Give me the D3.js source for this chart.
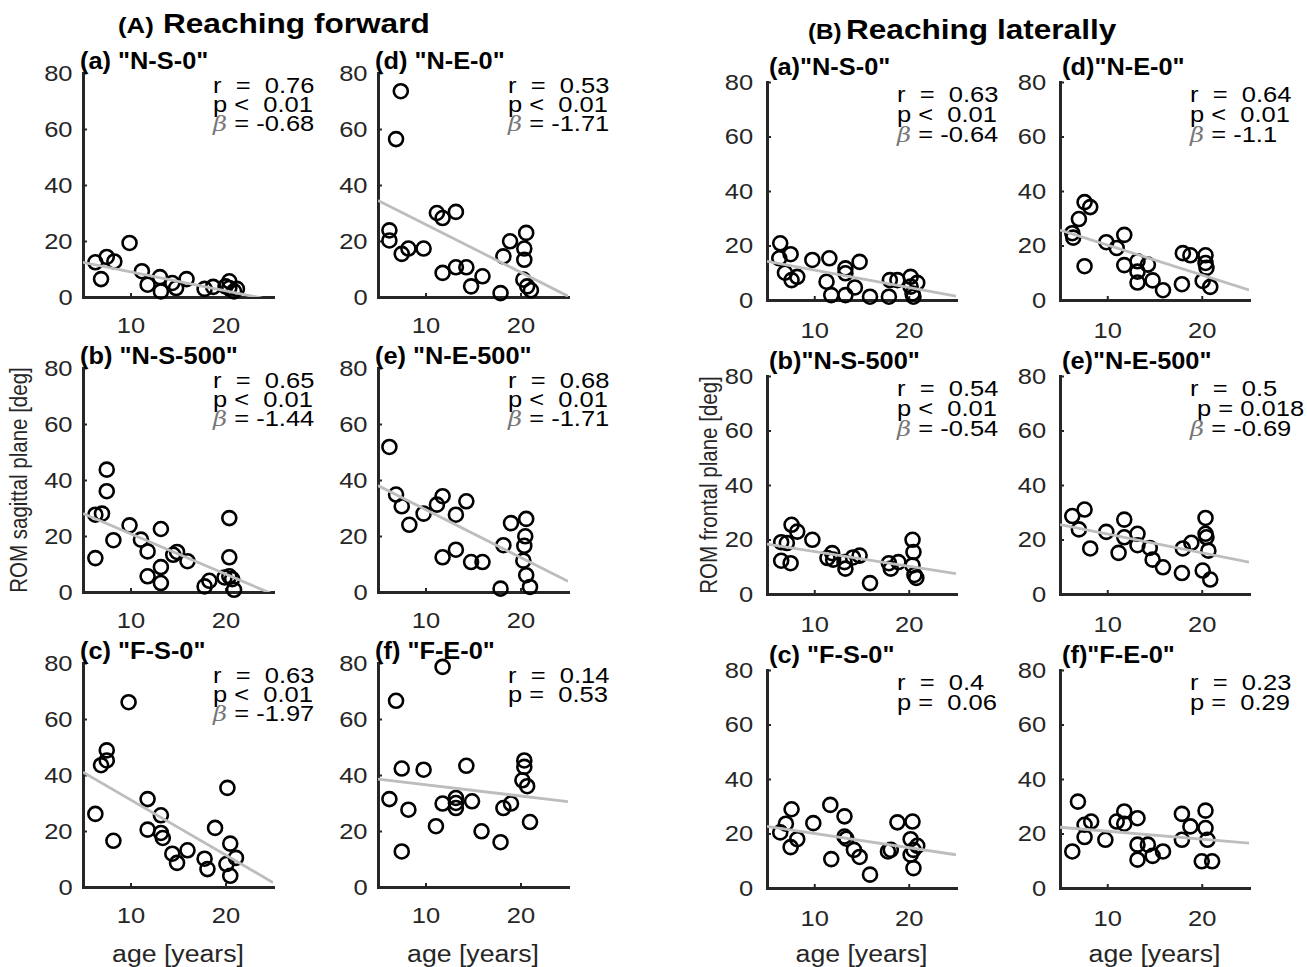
<!DOCTYPE html>
<html><head><meta charset="utf-8">
<script src="https://cdn.jsdelivr.net/npm/d3@7"></script>
<style>
body{margin:0;background:#fff;}
svg text{font-family:"Liberation Sans",Arial,Helvetica,sans-serif;}
</style></head><body>
<svg id="chart" width="1307" height="967"></svg>
<script>
// ---------- DATA ----------
const xTicks = [10, 20];
const yTicks = [0, 20, 40, 60, 80];
const groupTitles = ["Reaching forward", "Reaching laterally"];
const groupTags = ["(A)", "(B)"];
const yLabels = ["ROM sagittal plane [deg]", "ROM frontal plane [deg]"];
const xLabel = "age [years]";

// (A) Reaching forward
const ageAa = [6.3,6.9,7.5,8.3,9.9,11.2,11.8,13.1,13.2,14.4,14.8,15.9,17.8,18.7,20.0,20.4,20.4,20.9,21.2];
const romAa = [12.4,6.4,14.3,12.7,19.3,9.2,4.4,7.1,2.0,5.0,3.2,6.4,2.9,3.6,3.8,5.6,3.2,2.0,2.9];
const ageAd = [7.4,6.9,6.2,6.2,7.5,8.2,9.8,11.2,11.8,13.2,11.8,13.2,14.3,14.8,16.0,17.9,18.2,18.9,20.6,20.4,20.4,20.3,20.7,21.1];
const romAd = [73.5,56.4,23.8,20.2,15.4,17.3,17.3,30,28.2,30.4,8.6,10.6,10.6,3.8,7.4,1.4,14.5,19.9,22.9,17.3,13.3,6.2,3.8,2.4];
const ageAb = [6.3,6.3,7.0,7.5,7.5,8.2,9.9,11.1,11.8,11.8,13.2,13.2,13.2,14.5,14.9,16.0,17.8,18.3,19.9,20.4,20.4,20.4,20.7,20.9];
const romAb = [12.1,27.6,28,43.7,36,18.5,23.8,18.7,14.5,5.6,22.5,8.9,3.2,13.3,14.3,11.0,2.0,4.0,5.2,26.4,12.4,5.6,4.6,0.8];
const ageAe = [6.2,6.9,7.5,8.3,9.8,11.2,11.8,13.2,14.3,11.8,13.2,14.8,16.0,17.9,18.2,19.0,20.6,20.5,20.4,20.3,20.6,21.0];
const romAe = [51.8,34.8,30.6,24,28,31.2,34.2,27.6,32.4,12.4,15.1,10.7,10.7,1.2,16.7,24.6,26.1,19.9,16.5,11.2,6.0,1.8];
const ageAc = [9.8,7.5,7.5,6.9,6.3,8.2,11.8,11.8,13.2,13.2,13.4,14.4,14.9,16.0,17.8,18.1,18.9,20.2,20.5,21.1,20.1,20.5];
const romAc = [66,48.8,45.2,43.5,26.1,16.5,31.4,20.5,25.6,19.3,17.5,11.9,8.6,13.1,10.1,6.4,21.1,35.4,15.5,10.4,8.2,4.0];
const ageAf = [11.8,6.9,7.5,9.8,14.3,6.2,8.2,7.5,11.1,11.8,13.2,13.2,13.2,14.9,15.9,17.9,18.2,19.0,20.4,20.4,20.2,20.7,21.0];
const romAf = [78.6,66.5,42.3,41.9,43.3,31.4,27.6,12.7,21.7,29.8,31.8,30,28.2,30.6,19.9,16,28.2,29.8,45.2,42.9,38.1,36,23.2];

// (B) Reaching laterally
const ageBa = [6.4,6.3,7.5,6.9,7.6,8.2,9.8,11.6,11.3,11.8,13.3,13.3,13.3,14.3,14.8,15.9,17.9,18.0,18.8,20.2,20.2,20.4,20.9,20.5];
const romBa = [20.8,15.3,16.8,10,7.3,8.5,14.7,15.3,6.7,1.8,11.6,9.8,1.8,4.6,14,1.2,1.2,7.3,7.3,8.5,4.9,2.4,6.3,1.2];
const ageBd = [7.6,8.2,7.0,6.3,6.4,7.6,9.9,11.0,11.8,11.8,13.2,13.2,13.2,14.3,14.8,15.9,17.9,18.0,18.8,20.4,20.4,20.5,20.1,20.9];
const romBd = [35.9,34.1,29.7,24.5,22.9,12.4,21.2,19.1,23.9,12.8,14.2,10.4,6.4,13.0,7.2,3.6,5.8,17.2,16.4,16.4,13.6,11.8,7.0,4.8];
const ageBb = [6.5,7.1,6.5,7.5,7.6,8.2,9.8,11.4,11.9,12.0,13.2,13.3,14.1,14.8,15.9,17.9,18.1,18.9,20.4,20.5,20.4,20.8,20.6];
const romBb = [19,18.7,12.2,11.3,25.4,22.9,19.9,13.2,15,12.6,11.7,9.3,13.4,14.1,4.0,11.3,9.3,11.7,19.9,15.4,10.5,5.9,7.0];
const ageBe = [6.3,7.6,7.0,8.2,9.9,11.2,11.8,11.8,13.2,13.2,14.5,14.8,15.9,17.9,18.0,18.9,20.4,20.4,20.5,20.7,20.1,20.9];
const romBe = [28.6,31,23.7,16.7,22.8,15.1,27.3,20.8,22.1,17.9,16.9,12.6,9.8,7.7,16.7,18.8,27.9,22.1,20.8,15.9,8.6,5.3];
const ageBc = [6.4,7.0,7.6,8.2,7.5,9.9,11.7,11.8,13.2,13.2,13.4,14.2,14.8,15.9,17.8,18.1,18.8,20.4,20.2,20.2,20.5,20.9,20.5];
const romBc = [20.4,23.6,28.9,17.9,15,23.8,30.5,10.6,26.3,18.9,18.1,14,11.4,4.9,13.4,14,24.1,24.4,17.9,12.2,7.3,15.5,14];
const ageBf = [6.3,6.9,7.6,7.6,8.3,9.8,11.0,11.8,11.8,13.2,13.2,13.2,14.3,14.8,15.9,17.9,17.9,18.8,20.4,20.4,20.6,20.0,21.1];
const romBf = [13.4,31.7,23.2,18.7,24.4,17.7,24.4,28.1,23.6,25.6,15.9,10.4,15.9,11.8,13.4,27.2,17.7,22.6,28.4,22.0,17.7,9.8,9.8];

// panel titles
const titlesA = ['(a) "N-S-0"', '(b) "N-S-500"', '(c) "F-S-0"', '(d) "N-E-0"', '(e) "N-E-500"', '(f) "F-E-0"'];
const titlesB = ['(a)"N-S-0"', '(b)"N-S-500"', '(c) "F-S-0"', '(d)"N-E-0"', '(e)"N-E-500"', '(f)"F-E-0"'];
// statistics text
const statsAa = ["r  =  0.76", "p <  0.01", "β = -0.68"];
const statsAb = ["r  =  0.65", "p <  0.01", "β = -1.44"];
const statsAc = ["r  =  0.63", "p <  0.01", "β = -1.97"];
const statsAd = ["r  =  0.53", "p <  0.01", "β = -1.71"];
const statsAe = ["r  =  0.68", "p <  0.01", "β = -1.71"];
const statsAf = ["r  =  0.14", "p =  0.53"];
const statsBa = ["r  =  0.63", "p <  0.01", "β = -0.64"];
const statsBb = ["r  =  0.54", "p <  0.01", "β = -0.54"];
const statsBc = ["r  =  0.4", "p =  0.06"];
const statsBd = ["r  =  0.64", "p <  0.01", "β = -1.1"];
const statsBe = ["r  =  0.5", " p = 0.018", "β = -0.69"];
const statsBf = ["r  =  0.23", "p =  0.29"];
// regression lines: [value at age 5, slope]
const fitAa = [12.4, -0.68], fitAb = [28, -1.44], fitAc = [41, -1.97];
const fitAd = [34.5, -1.71], fitAe = [38, -1.71], fitAf = [38.5, -0.4];
const fitBa = [14.2, -0.64], fitBb = [18.3, -0.54], fitBc = [22.6, -0.52];
const fitBd = [25.7, -1.1], fitBe = [25.5, -0.69], fitBf = [22.3, -0.29];

// ---------- LAYOUT ----------
const groups = [
  {cols:[83,378], rows:[73,368,663], w:190, h:224, titleDx:-3, titleDy:-4, statY:20, statStep:19, yPad:9, xPad:20},
  {cols:[767,1060], rows:[82,376,670], w:189, h:218, titleDx:2, titleDy:-7, statY:20, statStep:20, yPad:12, xPad:22}
];
const panels = [
  {g:0,c:0,r:0,t:titlesA[0],age:ageAa,rom:romAa,st:statsAa,fit:fitAa},
  {g:0,c:0,r:1,t:titlesA[1],age:ageAb,rom:romAb,st:statsAb,fit:fitAb},
  {g:0,c:0,r:2,t:titlesA[2],age:ageAc,rom:romAc,st:statsAc,fit:fitAc},
  {g:0,c:1,r:0,t:titlesA[3],age:ageAd,rom:romAd,st:statsAd,fit:fitAd},
  {g:0,c:1,r:1,t:titlesA[4],age:ageAe,rom:romAe,st:statsAe,fit:fitAe},
  {g:0,c:1,r:2,t:titlesA[5],age:ageAf,rom:romAf,st:statsAf,fit:fitAf},
  {g:1,c:0,r:0,t:titlesB[0],age:ageBa,rom:romBa,st:statsBa,fit:fitBa},
  {g:1,c:0,r:1,t:titlesB[1],age:ageBb,rom:romBb,st:statsBb,fit:fitBb},
  {g:1,c:0,r:2,t:titlesB[2],age:ageBc,rom:romBc,st:statsBc,fit:fitBc},
  {g:1,c:1,r:0,t:titlesB[3],age:ageBd,rom:romBd,st:statsBd,fit:fitBd},
  {g:1,c:1,r:1,t:titlesB[4],age:ageBe,rom:romBe,st:statsBe,fit:fitBe},
  {g:1,c:1,r:2,t:titlesB[5],age:ageBf,rom:romBf,st:statsBf,fit:fitBf}
];

const SX = 1.16;
const AX = '#262626';
const svg = d3.select('#chart');

function txt(parent, x, y, str, o = {}) {
  const sx = o.sx || SX;
  return parent.append('text')
    .attr('transform', `translate(${x},${y}) scale(${sx},1)`)
    .attr('font-size', o.size || 22)
    .attr('font-weight', o.weight || 'normal')
    .attr('text-anchor', o.anchor || 'start')
    .attr('fill', o.fill || AX)
    .style('white-space', 'pre')
    .text(str);
}

panels.forEach((p, i) => {
  const G = groups[p.g];
  const x0 = G.cols[p.c], y0 = G.rows[p.r];
  const x = d3.scaleLinear().domain([5, 25]).range([x0, x0 + G.w]);
  const y = d3.scaleLinear().domain([0, 80]).range([y0 + G.h, y0]);
  const g = svg.append('g');

  // axes
  const gx = g.append('g').attr('transform', `translate(0,${y0 + G.h})`)
    .call(d3.axisBottom(x).tickValues(xTicks).tickSizeInner(-4).tickSizeOuter(0).tickPadding(G.xPad));
  const gy = g.append('g').attr('transform', `translate(${x0},0)`)
    .call(d3.axisLeft(y).tickValues(yTicks).tickSizeInner(-4).tickSizeOuter(0).tickPadding(G.yPad));
  [gx, gy].forEach(a => {
    a.attr('font-size', 22).attr('font-family', null);
    a.select('.domain').attr('stroke', AX).attr('stroke-width', 3).attr('stroke-linecap', 'square');
    a.selectAll('.tick line').attr('stroke', AX).attr('stroke-width', 2);
    a.selectAll('.tick text').attr('fill', AX).attr('transform', `scale(${SX},1)`);
  });

  // clip
  const cid = 'clip' + i;
  g.append('clipPath').attr('id', cid).append('rect')
    .attr('x', x0).attr('y', y0).attr('width', G.w).attr('height', G.h);

  // points
  g.append('g').selectAll('circle').data(p.age.map((a, k) => [a, p.rom[k]])).join('circle')
    .attr('cx', d => x(d[0])).attr('cy', d => y(d[1])).attr('r', 7)
    .attr('fill', 'none').attr('stroke', '#000').attr('stroke-width', 2.6);

  // regression line
  const line = d3.line().x(d => x(d[0])).y(d => y(d[1]));
  const ends = [5, 25].map(a => [a, p.fit[0] + p.fit[1] * (a - 5)]);
  g.append('path').attr('d', line(ends)).attr('clip-path', `url(#${cid})`)
    .attr('fill', 'none').attr('stroke', '#bdbdbd').attr('stroke-width', 2.8);

  // panel title
  txt(g, x0 + G.titleDx, y0 + G.titleDy, p.t, {size: 23.5, weight: 'bold', fill: '#000', sx: 1.08});

  // stats (one text block, one line per tspan)
  const st = txt(g, x0 + 130, y0 + G.statY, '', {size: 22, fill: '#000'});
  p.st.forEach((s, k) => {
    const ln = st.append('tspan').attr('x', 0).attr('dy', k === 0 ? 0 : G.statStep);
    if (s.startsWith('β')) {
      ln.append('tspan').attr('font-family', '"DejaVu Serif", serif').attr('font-style', 'italic')
        .attr('fill', '#777').attr('font-size', 21).text('β');
      ln.append('tspan').text(s.slice(1));
    } else {
      ln.text(s);
    }
  });

  // x label for bottom row
  if (p.r === 2) {
    txt(g, x0 + G.w / 2, 962, xLabel, {size: 23, anchor: 'middle'});
  }
});

// group titles
txt(svg, 118, 33, groupTags[0], {size: 22, weight: 'bold', fill: '#000', sx: 1.17});
txt(svg, 163, 33, groupTitles[0], {size: 27, weight: 'bold', fill: '#000', sx: 1.17});
txt(svg, 808, 39, groupTags[1], {size: 22, weight: 'bold', fill: '#000', sx: 1.1});
txt(svg, 846, 39, groupTitles[1], {size: 27, weight: 'bold', fill: '#000', sx: 1.17});

// y labels (rotated)
[[27, 480], [717, 485]].forEach((pos, k) => {
  svg.append('text')
    .attr('transform', `translate(${pos[0]},${pos[1]}) rotate(-90) scale(1,${SX})`)
    .attr('font-size', 20.5).attr('text-anchor', 'middle').attr('fill', AX)
    .text(yLabels[k]);
});
</script>
</body></html>
